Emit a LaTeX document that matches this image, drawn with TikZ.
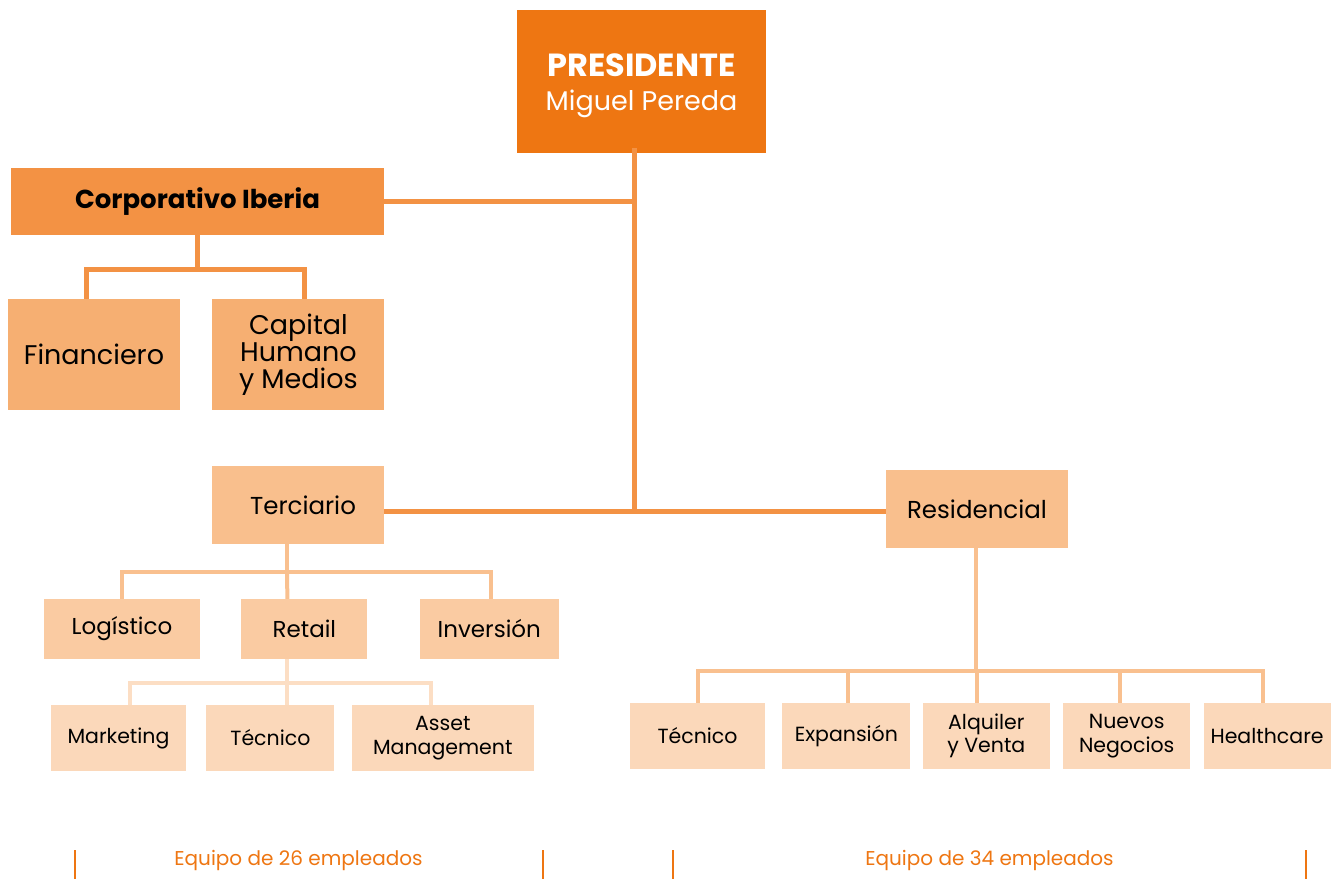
\documentclass[tikz,border=0pt]{standalone}
\usepackage{fontspec}
\setmainfont{Poppins}
\usetikzlibrary{positioning}

\definecolor{presiorange}{HTML}{EE7612}
\definecolor{corporange}{HTML}{F39244}
\definecolor{areaorange}{HTML}{F6AF72}
\definecolor{unitorange}{HTML}{F9BF8D}
\definecolor{deptorange}{HTML}{FACBA2}
\definecolor{teamorange}{HTML}{FBD8BA}
\definecolor{unitline}{HTML}{F9C08F}
\definecolor{teamline}{HTML}{FCDEC4}

\tikzset{
    orgbox/.style={rectangle, inner sep=0pt, align=center, text=black},
    presibox/.style={orgbox, fill=presiorange, text=white, minimum width=249pt, minimum height=143pt, font=\fontsize{27}{34}\selectfont},
    corpbox/.style={orgbox, fill=corporange, minimum width=373pt, minimum height=67pt, font=\fontsize{26}{27}\selectfont\bfseries},
    areabox/.style={orgbox, fill=areaorange, minimum width=172pt, minimum height=111pt, font=\fontsize{27}{27}\selectfont},
    unitbox/.style={orgbox, fill=unitorange, minimum height=78pt, font=\fontsize{24.5}{26}\selectfont},
    deptbox/.style={orgbox, fill=deptorange, minimum height=60pt, font=\fontsize{23}{24}\selectfont},
    teambox/.style={orgbox, fill=teamorange, minimum height=66pt, font=\fontsize{20.5}{23.5}\selectfont},
    trunk/.style={draw=corporange, line width=5pt},
    unitlink/.style={draw=unitline, line width=4pt},
    teamlink/.style={draw=teamline, line width=4pt},
    teamnote/.style={text=presiorange, font=\fontsize{20}{22}\selectfont}
}

\begin{document}
\begin{tikzpicture}[x=1pt, y=-1pt]
    \useasboundingbox (0,0) rectangle (1334,879);

    % Nodes
    \node (presi) [presibox] at (641.5,81.5) {\rule{0pt}{31pt}{\fontsize{32}{34}\selectfont\bfseries PRESIDENTE}\\Miguel Pereda}; % head of the company
    \node (corp) [corpbox] at (197.5,201.5) {Corporativo Iberia}; % corporate area
    \node (fin) [areabox] at (94,354.5) {Financiero};
    \node (capital) [areabox, right=32pt of fin] {Capital\\Humano\\y Medios};
    \node (terc) [unitbox, minimum width=172pt] at (298,505) {\hspace*{10pt}Terciario}; % tertiary business
    \node (resid) [unitbox, minimum width=182pt] at (977,509) {Residencial}; % residential business

    \node (logi) [deptbox, minimum width=156pt] at (122,629) {Logístico};
    \node (retail) [deptbox, minimum width=126pt, right=41pt of logi] {Retail};
    \node (inver) [deptbox, minimum width=139pt, right=52pt of retail] {Inversión};

    \node (market) [teambox, minimum width=135pt] at (118.5,738) {Marketing};
    \node (tecter) [teambox, minimum width=128pt, right=20pt of market] {Técnico};
    \node (asset) [teambox, minimum width=182pt, right=17pt of tecter] {Asset\\Management};

    \node (tecres) [teambox, minimum width=135pt] at (697.5,736) {Técnico};
    \node (expan) [teambox, minimum width=128pt, right=17pt of tecres] {Expansión};
    \node (alqui) [teambox, minimum width=127pt, right=12pt of expan] {Alquiler\\y Venta};
    \node (nuevos) [teambox, minimum width=127pt, right=13pt of alqui] {Nuevos\\Negocios};
    \node (health) [teambox, minimum width=127pt, right=13pt of nuevos] {Healthcare};

    \node (eqter) [teamnote] at (298.5,860) {Equipo de 26 empleados}; % staff of the tertiary side
    \node (eqres) [teamnote] at (989.5,860) {Equipo de 34 empleados}; % staff of the residential side

    % Connectors
    \coordinate (hub) at (634,511);
    \draw[trunk] ([yshift=5pt]presi.south -| hub) -- (hub);
    \draw[trunk] (corp.east) -- (corp.east -| hub);
    \draw[trunk] (hub -| terc.east) -- (hub -| resid.west);

    \draw[trunk] (corp.south) -- ++(0,34) coordinate (corpbar);
    \draw[trunk] ([xshift=-8pt]fin.north) |- (corpbar) -| ([xshift=6pt]capital.north);

    \draw[unitlink] ([xshift=-11pt]terc.south) -- ++(0,28) coordinate (tercbar);
    \draw[unitlink] (logi.north) |- (tercbar) -| ([xshift=1.5pt]inver.north);
    \draw[unitlink] (tercbar) -- ([xshift=-17pt]retail.north);

    \draw[teamlink] ([xshift=-17pt]retail.south) -- ++(0,24) coordinate (retailbar);
    \draw[teamlink] ([xshift=11.5pt]market.north) |- (retailbar) -| ([xshift=-12pt]asset.north);
    \draw[teamlink] (retailbar) -- ([xshift=17pt]tecter.north);

    \draw[unitlink] ([xshift=-1pt]resid.south) -- ++(0,123) coordinate (residbar);
    \draw[unitlink] (tecres.north) |- (residbar) -| ([xshift=-4.5pt]health.north);
    \foreach \team/\shift in {expan/2, alqui/-9.5, nuevos/-6.5}
        \draw[unitlink] ([xshift=\shift pt]\team.north) coordinate (drop) -- (drop |- residbar);

    % Team brackets
    \foreach \xpos in {75,543,673,1306}
        \draw[presiorange, line width=2pt] (\xpos,850) -- (\xpos,879);
\end{tikzpicture}
\end{document}
